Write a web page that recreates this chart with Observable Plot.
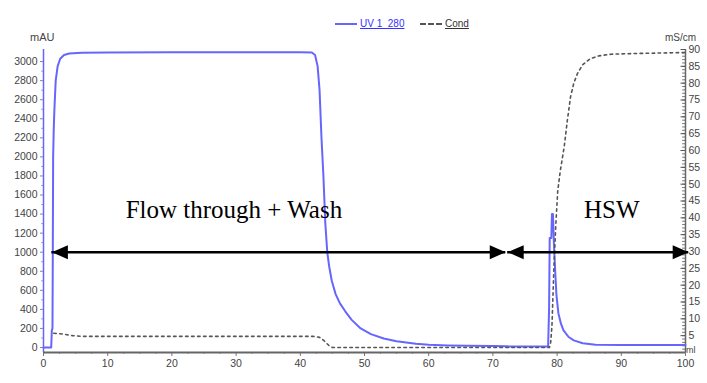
<!DOCTYPE html>
<html><head><meta charset="utf-8">
<script src="https://cdn.jsdelivr.net/npm/d3@7"></script>
<script src="https://cdn.jsdelivr.net/npm/@observablehq/plot@0.6"></script>
<style>
body{margin:0;background:#fff;}
#wrap{position:relative;width:707px;height:383px;font-family:"Liberation Sans",Arial,sans-serif;background:#fff;overflow:hidden;}
#wrap svg{position:absolute;left:0;top:0;}
.lab{position:absolute;white-space:nowrap;color:#444;line-height:1;}
.sw{position:absolute;height:0;}
</style></head><body>
<div id="wrap">
  <div class="sw" style="left:335px;top:23px;width:22px;border-top:2px solid #6666ff;"></div>
  <div class="lab" style="left:360px;top:19px;font-size:10px;color:#3333ff;text-decoration:underline;">UV 1_280</div>
  <div class="sw" style="left:420px;top:23px;width:22px;border-top:2px dashed #555;"></div>
  <div class="lab" style="left:445px;top:19px;font-size:10px;color:#333;text-decoration:underline;">Cond</div>
  <div class="lab" style="left:30px;top:32px;font-size:11px;">mAU</div>
  <div class="lab" style="left:665px;top:33px;font-size:10px;">mS/cm</div>
  <div class="lab" style="left:686px;top:346px;font-size:9px;">ml</div>
</div>
<script>
// UV 1_280 curve (ml, mAU)
const uvMl  = [0, 1.2, 1.3, 1.4, 1.45, 1.5, 1.6, 1.7, 1.9, 2.2, 2.6, 3.2, 4, 6, 10, 20, 30, 40, 41.8, 42.3, 42.7, 43.0, 43.3, 43.6, 43.9, 44.2, 44.5, 44.9, 45.5, 46.2, 47, 48, 49.4, 51, 53, 55, 58, 60, 63, 66, 70, 72, 73, 78.6, 78.75, 78.85, 79.1, 79.2, 79.35, 79.5, 79.7, 79.9, 80.2, 80.6, 81, 81.8, 82.6, 84, 86, 90, 100];
const uvVal = [0, 0, 180, 200, 1000, 2000, 2300, 2500, 2800, 2950, 3030, 3070, 3085, 3092, 3095, 3098, 3098, 3098, 3095, 3070, 2950, 2700, 2200, 1800, 1300, 1000, 850, 700, 560, 460, 380, 290, 200, 140, 95, 65, 40, 30, 22, 18, 15, 12, 10, 10, 400, 1150, 1150, 1400, 1400, 1100, 800, 550, 360, 250, 180, 110, 75, 45, 30, 25, 25];
// Conductivity curve (ml, mS/cm)
const condMl  = [1.6, 3, 4.5, 6, 42, 43, 43.7, 44.5, 45, 78.8, 79.0, 79.2, 79.5, 79.8, 80.1, 80.5, 81.1, 81.6, 82.1, 82.6, 83.2, 84, 85.2, 86.5, 88.4, 92, 100];
const condVal = [5.7, 5.5, 5.0, 4.8, 4.8, 4.5, 3.5, 2.0, 1.5, 1.5, 3, 8, 25, 38, 48, 54, 61, 69, 76, 80, 83, 85.5, 87.3, 88.1, 88.6, 88.8, 89.1];
// Tick values
const xTicks = [0, 10, 20, 30, 40, 50, 60, 70, 80, 90, 100];
const mauTicks = [0, 200, 400, 600, 800, 1000, 1200, 1400, 1600, 1800, 2000, 2200, 2400, 2600, 2800, 3000];
const msTicks = [5, 10, 15, 20, 25, 30, 35, 40, 45, 50, 55, 60, 65, 70, 75, 80, 85, 90];
// Annotations
const regionLabels = ["Flow through + Wash", "HSW"];
const regionStart = [1.3, 72.3];
const regionEnd = [72.0, 100.5];
const labelX = [12.8, 84.2];
const labelY = [1354, 1364];
const arrowLevel = 1000;

const Y0 = -52.5, Y1 = 3127, C1 = 90;
const condToY = c => Y0 + c * (Y1 - Y0) / C1;
const yToCond = y => (y - Y0) * C1 / (Y1 - Y0);

const uvData = uvMl.map((m, i) => ({ml: m, v: uvVal[i]}));
const condData = condMl.map((m, i) => ({ml: m, c: condVal[i]}));
const regions = regionLabels.map((l, i) => ({label: l, x1: regionStart[i], x2: regionEnd[i], tx: labelX[i], ty: labelY[i]}));
const xMinor = d3.range(0, 100.01, 2.5).filter(v => v % 10 !== 0);
const mauMinor = d3.range(100, 3001, 200);
const msMinor = d3.range(1, 91, 1);

const headRight = {draw(ctx) { ctx.moveTo(0, 0); ctx.lineTo(-16, -7); ctx.lineTo(-16, 7); ctx.closePath(); }};
const headLeft  = {draw(ctx) { ctx.moveTo(0, 0); ctx.lineTo(16, -7); ctx.lineTo(16, 7); ctx.closePath(); }};

const chart = Plot.plot({
  width: 707, height: 383,
  marginLeft: 43, marginRight: 22, marginTop: 49, marginBottom: 31,
  x: {domain: [0, 100]},
  y: {domain: [Y0, Y1]},
  style: {fontFamily: "Liberation Sans, Arial, sans-serif", fontSize: "10.5px", color: "#444", background: "transparent"},
  marks: [
    Plot.axisX(xTicks, {anchor: "bottom", tickSize: 4, tickPadding: 3, label: null, stroke: "#777", tickFormat: d => String(d)}),
    Plot.axisX(xMinor, {anchor: "bottom", tickSize: 2, tickFormat: () => "", label: null, stroke: "#999"}),
    Plot.axisY(mauTicks, {anchor: "left", tickSize: 3, tickPadding: 3, label: null, stroke: "#888", tickFormat: d => String(d)}),
    Plot.axisY(mauMinor, {anchor: "left", tickSize: 2, tickFormat: () => "", label: null, stroke: "#aaa"}),
    Plot.axisY(msTicks.map(condToY), {anchor: "right", tickSize: 0, tickPadding: 3, label: null, tickFormat: d => String(Math.round(yToCond(d)))}),
    Plot.ruleY(msMinor.map(condToY), {x1: 99.55, x2: 100, stroke: "#777", strokeWidth: 1}),
    Plot.ruleY(msTicks.map(condToY), {x1: 99.3, x2: 100, stroke: "#555", strokeWidth: 1}),
    Plot.ruleX([0], {stroke: "#6666ff", strokeWidth: 1.5}),
    Plot.ruleX([100], {stroke: "#666", strokeWidth: 1.5}),
    Plot.ruleY([Y0], {stroke: "#666", strokeWidth: 2}),
    Plot.line(uvData, {x: "ml", y: "v", stroke: "#6666ff", strokeWidth: 2}),
    Plot.line(condData, {x: "ml", y: d => condToY(d.c), stroke: "#555", strokeWidth: 1.6, strokeDasharray: "2.5,3.5"}),
    Plot.ruleY(regions, {y: arrowLevel, x1: "x1", x2: "x2", stroke: "black", strokeWidth: 2.5}),
    Plot.dot(regions, {x: "x1", y: arrowLevel, symbol: headLeft, fill: "black", r: 5}),
    Plot.dot(regions, {x: "x2", y: arrowLevel, symbol: headRight, fill: "black", r: 5}),
    Plot.text(regions, {x: "tx", y: "ty", text: "label", textAnchor: "start", lineAnchor: "bottom", fontFamily: "Liberation Serif, Times New Roman, serif", fontSize: 25, fill: "black"})
  ]
});
document.getElementById("wrap").prepend(chart);
</script>
</body></html>
